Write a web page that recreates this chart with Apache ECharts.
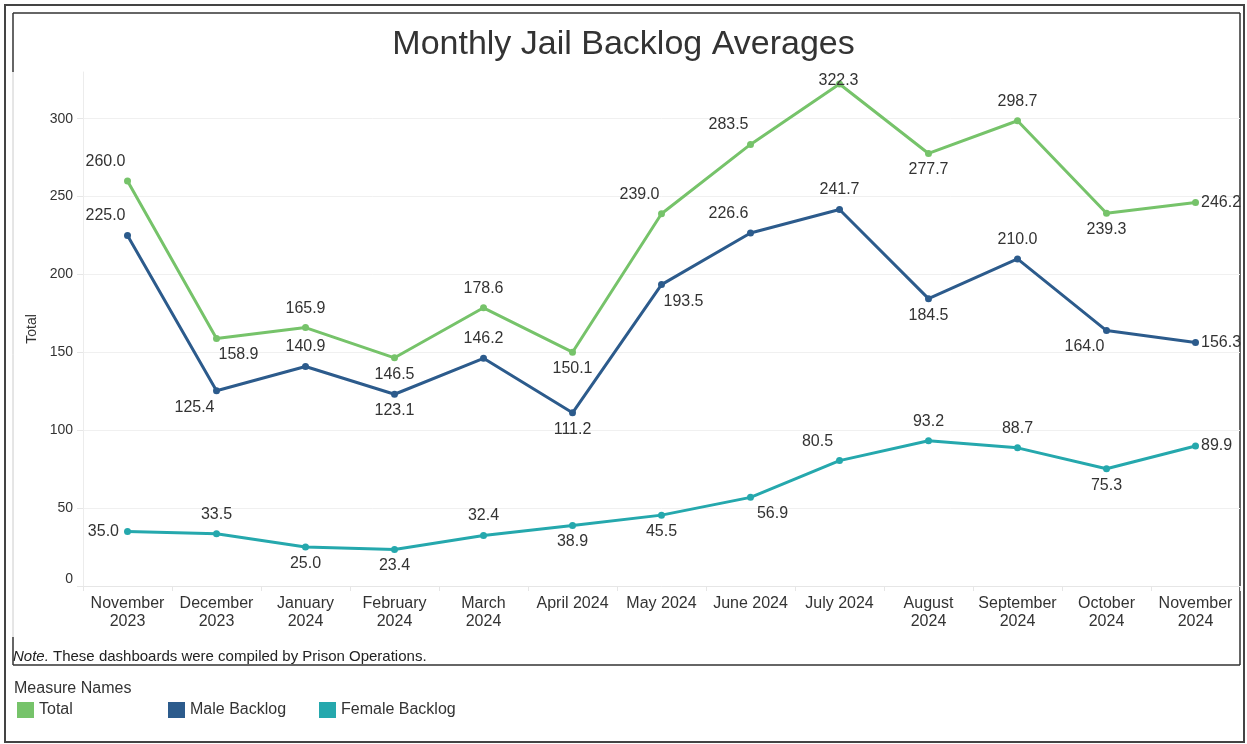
<!DOCTYPE html>
<html>
<head>
<meta charset="utf-8">
<script src="https://cdn.jsdelivr.net/npm/echarts@6/dist/echarts.min.js"></script>
<style>
html,body{margin:0;padding:0;background:#fff;}
#c{width:1247px;height:744px;}
</style>
</head>
<body>
<div id="c"></div>
<script>
var categories = ['November\n2023','December\n2023','January\n2024','February\n2024','March\n2024','April 2024','May 2024','June 2024','July 2024','August\n2024','September\n2024','October\n2024','November\n2024'];
var totalValues  = [260.0,158.9,165.9,146.5,178.6,150.1,239.0,283.5,322.3,277.7,298.7,239.3,246.2];
var maleValues   = [225.0,125.4,140.9,123.1,146.2,111.2,193.5,226.6,241.7,184.5,210.0,164.0,156.3];
var femaleValues = [35.0,33.5,25.0,23.4,32.4,38.9,45.5,56.9,80.5,93.2,88.7,75.3,89.9];
var yTicks = [0,50,100,150,200,250,300];

// label placement per point (style only)
var totalPlace  = ['tl','br','t','b','t','b','tl','tl','peak','b','t','b','r'];
var malePlace   = ['tl','bl','t','b','t','b','br','tl','t','b','t','bl','r'];
var femalePlace = ['l','t','b','b','t','b','b','br','tl','t','t','b','r'];

function labelFor(p){
  switch(p){
    case 't': return {position:'top',distance:8};
    case 'tl': return {position:'top',distance:8,offset:[-22,0]};
    case 'b': return {position:'bottom',distance:5};
    case 'bl': return {position:'bottom',distance:5,offset:[-22,0]};
    case 'br': return {position:'bottom',distance:5,offset:[22,0]};
    case 'l': return {position:'left',distance:5};
    case 'r': return {position:'right',distance:2};
    case 'peak': return {position:'top',distance:0,offset:[-1,8]};
  }
}
function build(vals, places){
  return vals.map(function(v,i){ return {value:v, label:labelFor(places[i])}; });
}

var green='#76c36a', blue='#2c5b8c', teal='#25a8ad';
var font='"Liberation Sans", Arial, sans-serif';

function mkSeries(name, vals, places, color){
  return {
    name:name, type:'line', data:build(vals,places),
    symbol:'circle', symbolSize:7, showSymbol:true,
    lineStyle:{width:3,color:color}, itemStyle:{color:color},
    label:{show:true, color:'#333', fontSize:16, fontFamily:font,
      formatter:function(p){return p.value.toFixed(1);}},
    emphasis:{disabled:true}, z:3
  };
}

var legendText = {fontSize:16,color:'#333',fontFamily:font};
var chart = echarts.init(document.getElementById('c'), null, {renderer:'canvas'});
chart.setOption({
  backgroundColor:'#fff',
  animation:false,
  title:{text:'Monthly Jail Backlog Averages', left:'center', top:23,
    textStyle:{fontSize:34, fontWeight:'normal', color:'#333', fontFamily:font}},
  grid:{left:83, right:7, top:72, bottom:158, containLabel:false},
  legend:[
    {data:['Total'], left:17, top:702, padding:0, icon:'rect', itemWidth:17, itemHeight:16, itemGap:0,
      textStyle:legendText, selectedMode:false},
    {data:['Male Backlog'], left:168, top:702, padding:0, icon:'rect', itemWidth:17, itemHeight:16,
      textStyle:legendText, selectedMode:false},
    {data:['Female Backlog'], left:319, top:702, padding:0, icon:'rect', itemWidth:17, itemHeight:16,
      textStyle:legendText, selectedMode:false}
  ],
  xAxis:{type:'category', data:categories, boundaryGap:true,
    axisLine:{lineStyle:{color:'#e6e6e6'}},
    axisTick:{show:true, length:5, lineStyle:{color:'#e6e6e6'}},
    axisLabel:{color:'#333', fontSize:16, lineHeight:18, margin:9, fontFamily:font, interval:0}},
  yAxis:{type:'value', min:0, max:330, interval:50, name:'Total', nameLocation:'middle', nameGap:44,
    nameTextStyle:{fontSize:14,color:'#333',fontFamily:font},
    axisLine:{show:true, lineStyle:{color:'#ececec'}},
    axisTick:{show:true, length:6, lineStyle:{color:'#e6e6e6'}},
    axisLabel:{color:'#333', fontSize:14, fontFamily:font, margin:10, showMaxLabel:false,
      verticalAlignMinLabel:'bottom',
      formatter:function(v){return yTicks.indexOf(v)>=0 ? String(v) : '';}},
    splitLine:{show:true, showMaxLine:false, lineStyle:{color:'#f0f0f0', width:1}}},
  series:[
    mkSeries('Total', totalValues, totalPlace, green),
    mkSeries('Male Backlog', maleValues, malePlace, blue),
    mkSeries('Female Backlog', femaleValues, femalePlace, teal)
  ],
  graphic:[
    {type:'rect', shape:{x:5,y:5,width:1239,height:737}, style:{fill:'none',stroke:'#444',lineWidth:2}, silent:true},
    {type:'line', shape:{x1:13,y1:13,x2:1240,y2:13}, style:{stroke:'#333',lineWidth:1.5}, silent:true},
    {type:'line', shape:{x1:1240,y1:13,x2:1240,y2:665}, style:{stroke:'#333',lineWidth:1.5}, silent:true},
    {type:'line', shape:{x1:13,y1:665,x2:1240,y2:665}, style:{stroke:'#333',lineWidth:1.5}, silent:true},
    {type:'line', shape:{x1:13,y1:13,x2:13,y2:72}, style:{stroke:'#333',lineWidth:1.5}, silent:true},
    {type:'line', shape:{x1:13,y1:72,x2:13,y2:637}, style:{stroke:'#cccccc',lineWidth:1}, silent:true},
    {type:'line', shape:{x1:13,y1:637,x2:13,y2:665}, style:{stroke:'#333',lineWidth:1.5}, silent:true},
    {type:'text', left:13, top:649, style:{
      text:'{i|Note.} These dashboards were compiled by Prison Operations.',
      rich:{i:{fontStyle:'italic', fontSize:15, fill:'#222', fontFamily:font}},
      fontSize:15, fill:'#222', fontFamily:font}, silent:true},
    {type:'text', left:14, top:681, style:{text:'Measure Names', fontSize:16, fill:'#333', fontFamily:font}, silent:true}
  ]
});
</script>
</body>
</html>
